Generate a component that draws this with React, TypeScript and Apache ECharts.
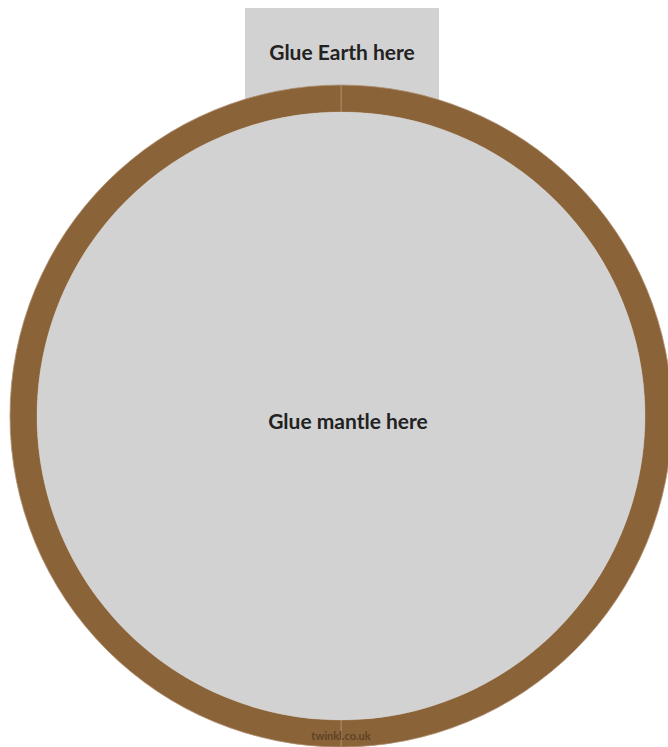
import React, { useEffect, useRef } from "react";
import * as echarts from "echarts";

const ringSegments = [50, 50];
const ringNames = ["left", "right"];
const mantleValues = [1];
const tabLabel = "Glue Earth here";
const mantleLabel = "Glue mantle here";
const footerLabel = "twinkl.co.uk";

export default function App() {
  const ref = useRef<HTMLDivElement>(null);
  useEffect(() => {
    document.body.style.margin = "0";
    const chart = echarts.init(ref.current!, undefined, { renderer: "svg" });
    const font = "Lato, 'Noto Sans', sans-serif";
    chart.setOption({
      animation: false,
      backgroundColor: "#ffffff",
      graphic: [
        {
          type: "rect",
          z: 0,
          shape: { x: 245, y: 8, width: 194, height: 100 },
          style: { fill: "#d2d2d2" },
        },
        {
          type: "text",
          z: 1,
          x: 342,
          y: 51,
          style: {
            text: tabLabel,
            fill: "#222222",
            font: `bold 21px ${font}`,
            textAlign: "center",
            textVerticalAlign: "middle",
          },
        },
        {
          type: "text",
          z: 100,
          x: 341,
          y: 735,
          style: {
            text: footerLabel,
            fill: "#5e4326",
            font: `bold 11px ${font}`,
            textAlign: "center",
            textVerticalAlign: "middle",
          },
        },
      ],
      series: [
        {
          type: "pie",
          silent: true,
          center: [341, 416],
          radius: [304, 331],
          startAngle: 90,
          clockwise: true,
          label: { show: false },
          labelLine: { show: false },
          itemStyle: { color: "#8a6339", borderColor: "#b09272", borderWidth: 0.8 },
          data: ringSegments.map((v, i) => ({ value: v, name: ringNames[i] })),
          z: 2,
        },
        {
          type: "pie",
          silent: true,
          center: [341, 416],
          radius: [0, 304],
          label: {
            show: true,
            position: "center",
            formatter: mantleLabel,
            fontSize: 21,
            fontWeight: "bold",
            fontFamily: font,
            color: "#222222",
            offset: [7, 4],
          },
          labelLine: { show: false },
          itemStyle: { color: "#d2d2d2" },
          data: mantleValues.map((v) => ({ value: v, name: mantleLabel })),
          z: 3,
        },
      ],
    });
    return () => chart.dispose();
  }, []);
  return <div ref={ref} style={{ width: 668, height: 747 }} />;
}
